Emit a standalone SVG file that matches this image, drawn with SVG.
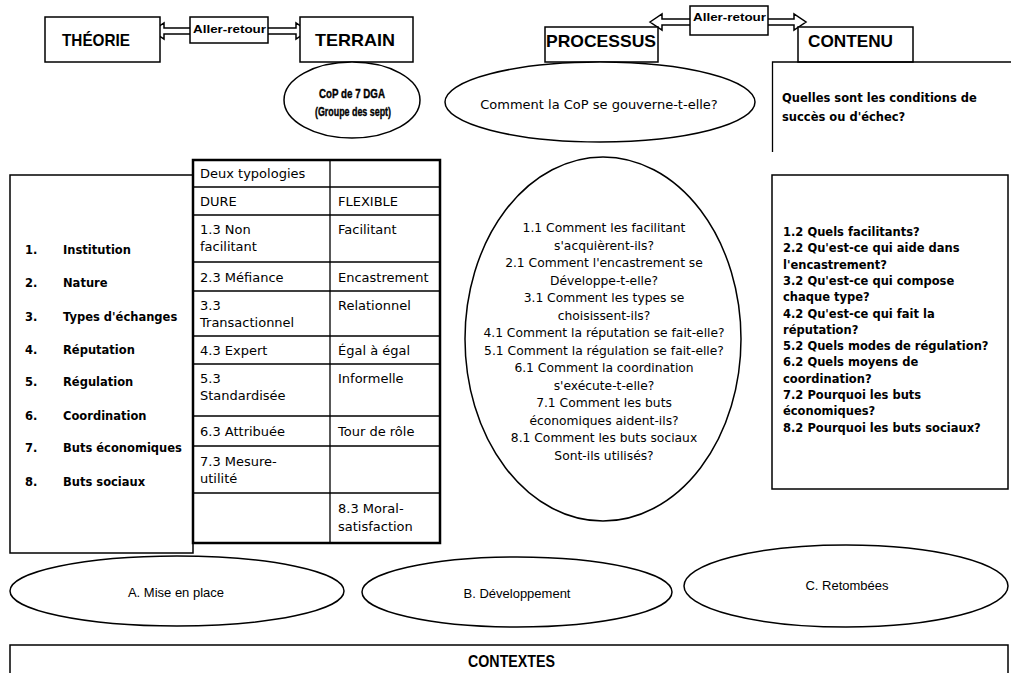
<svg xmlns="http://www.w3.org/2000/svg" width="1011" height="673" viewBox="0 0 1011 673">
<style>
.bx{fill:#fff;stroke:#000;stroke-width:1.5}
.ln{fill:none;stroke:#000;stroke-width:1.3}
.el{fill:#fff;stroke:#000;stroke-width:1.5}
.ttl{font-family:"Liberation Sans",Arial,sans-serif;font-weight:bold;font-size:17px;fill:#000}
.ar{font-family:"Liberation Sans",Arial,sans-serif;font-weight:bold;font-size:11px;fill:#000}
.cop{font-family:"Liberation Sans",Arial,sans-serif;font-weight:bold;font-size:13.5px;fill:#000;text-anchor:middle;stroke:#000;stroke-width:0.4}
.b{font-family:"DejaVu Sans",Verdana,sans-serif;font-weight:bold;font-size:11.5px;fill:#000}
.r{font-family:"DejaVu Sans",Verdana,sans-serif;font-size:13px;fill:#000}
.c{font-family:"DejaVu Sans",Verdana,sans-serif;font-size:12.3px;fill:#000;text-anchor:middle}
.n{font-family:"Liberation Sans",Arial,sans-serif;font-size:13px;fill:#000;text-anchor:middle}
</style>

<g id="connectors">
  <path class="bx" d="M152,31 L164,23 L164,28 L296,28 L296,23 L308,31 L296,39 L296,34 L164,34 L164,39 Z"/>
  <path class="bx" d="M650,22 L662,14 L662,19 L794,19 L794,14 L806,22 L794,30 L794,25 L662,25 L662,30 Z"/>
</g>

<g id="theorie">
  <rect class="bx" x="45" y="17" width="115" height="45"/>
  <text class="ttl" x="62" y="46" textLength="68" lengthAdjust="spacingAndGlyphs">THÉORIE</text>
</g>
<g id="terrain">
  <rect class="bx" x="300" y="17" width="113" height="45"/>
  <text class="ttl" x="315" y="46" textLength="80" lengthAdjust="spacingAndGlyphs">TERRAIN</text>
</g>
<g id="aller-retour-1">
  <rect class="bx" x="190" y="17" width="78" height="26"/>
  <text class="ar" x="193" y="33" textLength="73" lengthAdjust="spacingAndGlyphs">Aller-retour</text>
</g>
<g id="processus">
  <rect class="bx" x="545" y="27" width="113" height="35"/>
  <text class="ttl" x="546" y="47" textLength="110" lengthAdjust="spacingAndGlyphs">PROCESSUS</text>
</g>
<g id="contenu">
  <rect class="bx" x="798" y="27" width="115" height="35"/>
  <text class="ttl" x="808" y="47" textLength="85" lengthAdjust="spacingAndGlyphs">CONTENU</text>
</g>
<g id="aller-retour-2">
  <rect class="bx" x="690" y="6" width="78" height="29"/>
  <text class="ar" x="693" y="21" textLength="73" lengthAdjust="spacingAndGlyphs">Aller-retour</text>
</g>

<g id="cop">
  <ellipse class="el" cx="352" cy="100" rx="68" ry="38"/>
  <text class="cop" x="352" y="98" textLength="66" lengthAdjust="spacingAndGlyphs">CoP de 7 DGA</text>
  <text class="cop" x="353" y="116" textLength="76" lengthAdjust="spacingAndGlyphs">(Groupe des sept)</text>
</g>

<g id="gouverne">
  <ellipse class="el" cx="600" cy="102" rx="155" ry="40"/>
  <text class="c" x="599" y="109" style="font-size:13px">Comment  la CoP  se gouverne-t-elle?</text>
</g>

<g id="conditions">
  <path class="ln" d="M1011,62 H772.5 V152"/>
  <text class="b" x="782" y="102">Quelles sont les conditions de</text>
  <text class="b" x="782" y="121">succès ou d'échec?</text>
</g>

<g id="dimensions">
  <rect class="bx" x="10" y="175" width="183" height="378"/>
  <g class="b">
    <text x="25" y="254">1.</text><text x="63" y="254">Institution</text>
    <text x="25" y="287">2.</text><text x="63" y="287">Nature</text>
    <text x="25" y="321">3.</text><text x="63" y="321">Types d'échanges</text>
    <text x="25" y="354">4.</text><text x="63" y="354">Réputation</text>
    <text x="25" y="386">5.</text><text x="63" y="386">Régulation</text>
    <text x="25" y="420">6.</text><text x="63" y="420">Coordination</text>
    <text x="25" y="452">7.</text><text x="63" y="452">Buts économiques</text>
    <text x="25" y="486">8.</text><text x="63" y="486">Buts sociaux</text>
  </g>
</g>

<g id="typologies">
  <rect x="193" y="160" width="247" height="383" fill="#fff" stroke="#000" stroke-width="2.5"/>
  <path class="ln" d="M330,160 V543 M193,187 H440 M193,215 H440 M193,262 H440 M193,291 H440 M193,336 H440 M193,364 H440 M193,416 H440 M193,446 H440 M193,493 H440"/>
  <g class="r">
    <text x="200" y="178">Deux typologies</text>
    <text x="200" y="206">DURE</text><text x="338" y="206">FLEXIBLE</text>
    <text x="200" y="234">1.3 Non</text><text x="200" y="251">facilitant</text><text x="338" y="234">Facilitant</text>
    <text x="200" y="282">2.3 Méfiance</text><text x="338" y="282">Encastrement</text>
    <text x="200" y="310">3.3</text><text x="200" y="327">Transactionnel</text><text x="338" y="310">Relationnel</text>
    <text x="200" y="355">4.3 Expert</text><text x="338" y="355">Égal à égal</text>
    <text x="200" y="383">5.3</text><text x="200" y="400">Standardisée</text><text x="338" y="383">Informelle</text>
    <text x="200" y="436">6.3 Attribuée</text><text x="338" y="436">Tour de rôle</text>
    <text x="200" y="466">7.3 Mesure-</text><text x="200" y="483">utilité</text>
    <text x="338" y="513">8.3 Moral-</text><text x="338" y="531">satisfaction</text>
  </g>
</g>

<g id="comment">
  <ellipse class="el" cx="603" cy="339" rx="138" ry="182"/>
  <g class="c">
    <text x="604" y="232">1.1 Comment  les facilitant</text>
    <text x="604" y="249.5">s'acquièrent-ils?</text>
    <text x="604" y="267">2.1 Comment  l'encastrement se</text>
    <text x="604" y="284.5">Développe-t-elle?</text>
    <text x="604" y="302">3.1 Comment  les types se</text>
    <text x="604" y="319.5">choisissent-ils?</text>
    <text x="604" y="337">4.1 Comment  la réputation se fait-elle?</text>
    <text x="604" y="354.5">5.1 Comment  la régulation se fait-elle?</text>
    <text x="604" y="372">6.1 Comment  la coordination</text>
    <text x="604" y="389.5">s'exécute-t-elle?</text>
    <text x="604" y="407">7.1 Comment  les buts</text>
    <text x="604" y="424.5">économiques aident-ils?</text>
    <text x="604" y="442">8.1 Comment  les buts sociaux</text>
    <text x="604" y="459.5">Sont-ils utilisés?</text>
  </g>
</g>

<g id="questions">
  <rect class="bx" x="772" y="175" width="236" height="314"/>
  <g class="b">
    <text x="783" y="236">1.2 Quels facilitants?</text>
    <text x="783" y="252.3">2.2 Qu'est-ce qui aide dans</text>
    <text x="783" y="268.6">l'encastrement?</text>
    <text x="783" y="284.9">3.2 Qu'est-ce qui compose</text>
    <text x="783" y="301.2">chaque type?</text>
    <text x="783" y="317.5">4.2 Qu'est-ce qui fait la</text>
    <text x="783" y="333.8">réputation?</text>
    <text x="783" y="350.1">5.2 Quels modes de régulation?</text>
    <text x="783" y="366.4">6.2 Quels moyens de</text>
    <text x="783" y="382.7">coordination?</text>
    <text x="783" y="399">7.2 Pourquoi les buts</text>
    <text x="783" y="415.3">économiques?</text>
    <text x="783" y="431.6">8.2 Pourquoi les buts sociaux?</text>
  </g>
</g>

<g id="mise-en-place">
  <ellipse class="el" cx="177" cy="591" rx="167" ry="35"/>
  <text class="n" x="176" y="597">A. Mise en place</text>
</g>
<g id="developpement">
  <ellipse class="el" cx="517" cy="592" rx="155" ry="35"/>
  <text class="n" x="517" y="598">B. Développement</text>
</g>
<g id="retombees">
  <ellipse class="el" cx="846" cy="586" rx="162" ry="41"/>
  <text class="n" x="847" y="590">C. Retombées</text>
</g>

<g id="contextes">
  <rect class="bx" x="10" y="645" width="998" height="30"/>
  <text class="ttl" x="468" y="667" textLength="87" lengthAdjust="spacingAndGlyphs">CONTEXTES</text>
</g>
</svg>
